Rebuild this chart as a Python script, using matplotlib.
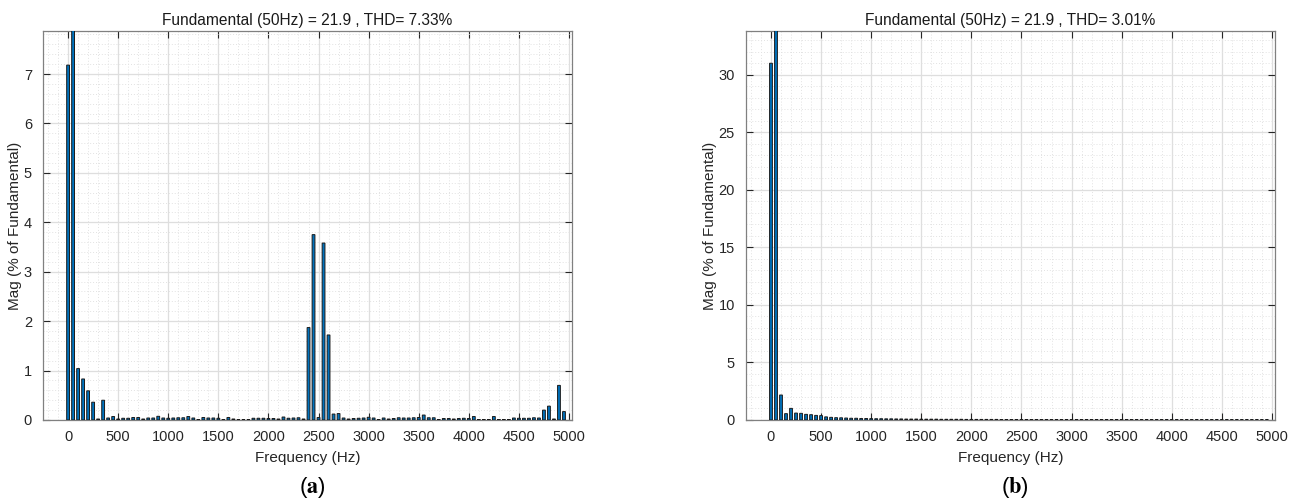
import numpy as np
import matplotlib
matplotlib.use("Agg")
import matplotlib.pyplot as plt
from matplotlib.ticker import MultipleLocator

plt.rcParams['font.family'] = ['Liberation Sans', 'DejaVu Sans']
plt.rcParams['mathtext.fontset'] = 'stix'

# harmonic frequencies 0..4950 Hz, step 50 Hz
freq = np.arange(0, 5000, 50)

# (a) magnitudes in % of fundamental
mag_a = [
    7.18, 100, 1.04, 0.83, 0.59, 0.36, 0.02, 0.40, 0.04, 0.07,
    0.02, 0.035, 0.035, 0.05, 0.05, 0.02, 0.04, 0.04, 0.075, 0.04,
    0.035, 0.04, 0.045, 0.045, 0.07, 0.04, 0.01, 0.05, 0.04, 0.04,
    0.035, 0.01, 0.05, 0.02, 0.005, 0.005, 0.005, 0.035, 0.035, 0.035,
    0.03, 0.03, 0.02, 0.06, 0.035, 0.04, 0.045, 0.02, 1.87, 3.75,
    0.05, 3.58, 1.72, 0.12, 0.13, 0.04, 0.02, 0.03, 0.035, 0.04,
    0.055, 0.04, 0.01, 0.04, 0.02, 0.03, 0.045, 0.04, 0.04, 0.045,
    0.05, 0.10, 0.045, 0.045, 0.01, 0.03, 0.03, 0.02, 0.03, 0.035,
    0.03, 0.07, 0.01, 0.01, 0.01, 0.07, 0.01, 0.01, 0.01, 0.04,
    0.035, 0.035, 0.035, 0.045, 0.04, 0.20, 0.28, 0.02, 0.70, 0.17,
]

# (b) magnitudes in % of fundamental
mag_b = [
    31.0, 100, 2.17, 0.55, 1.01, 0.60, 0.58, 0.49, 0.46, 0.40,
    0.38, 0.27, 0.23, 0.20, 0.19, 0.17, 0.15, 0.15, 0.13, 0.13,
    0.12, 0.11, 0.11, 0.10, 0.10, 0.09, 0.09, 0.08, 0.08, 0.08,
    0.07, 0.07, 0.07, 0.07, 0.06, 0.06, 0.06, 0.06, 0.06, 0.05,
    0.05, 0.05, 0.05, 0.05, 0.05, 0.05, 0.04, 0.04, 0.04, 0.04,
    0.04, 0.04, 0.04, 0.04, 0.04, 0.04, 0.03, 0.03, 0.03, 0.03,
    0.03, 0.03, 0.03, 0.03, 0.03, 0.03, 0.03, 0.03, 0.03, 0.03,
    0.03, 0.03, 0.03, 0.02, 0.02, 0.02, 0.02, 0.02, 0.02, 0.02,
    0.02, 0.02, 0.02, 0.02, 0.02, 0.02, 0.02, 0.02, 0.02, 0.02,
    0.02, 0.02, 0.02, 0.02, 0.02, 0.02, 0.02, 0.02, 0.02, 0.02,
]

titles = ["Fundamental (50Hz) = 21.9 , THD= 7.33%",
          "Fundamental (50Hz) = 21.9 , THD= 3.01%"]
panel_labels = [r"($\mathbf{a}$)", r"($\mathbf{b}$)"]
ytops = [7.87, 33.8]
ymajor = [1, 5]

fig = plt.figure(figsize=(13, 5.01), dpi=100)
positions = [[0.0331, 0.1617, 0.4069, 0.7764],
             [0.5738, 0.1617, 0.4069, 0.7764]]

for i, mags in enumerate([mag_a, mag_b]):
    ax = fig.add_axes(positions[i])
    bars = ax.bar(freq, mags, width=28, color='#0072BD', edgecolor='#1a1a1a',
                  linewidth=0.7, zorder=3)
    for b in bars:
        b.set_snap(False)
    ax.set_xlim(-250, 5030)
    ax.set_ylim(0, ytops[i])
    ax.xaxis.set_major_locator(MultipleLocator(500))
    ax.xaxis.set_minor_locator(MultipleLocator(100))
    ax.yaxis.set_major_locator(MultipleLocator(ymajor[i]))
    ax.yaxis.set_minor_locator(MultipleLocator(ymajor[i] / 5))
    ax.grid(which='major', color='#dedede', linewidth=0.9, zorder=0)
    ax.grid(which='minor', color='#e2e2e2', linestyle=(0, (1, 2)),
            linewidth=0.7, zorder=0)
    ax.set_axisbelow(True)
    ax.tick_params(which='major', direction='in', length=5, top=True,
                   right=True, labelsize=10.5, colors='#262626', width=0.8)
    ax.tick_params(axis='x', which='major', pad=7)
    ax.tick_params(axis='y', which='major', pad=8)
    ax.tick_params(which='minor', length=0)
    for s in ax.spines.values():
        s.set_color('#808080')
        s.set_linewidth(0.9)
    ax.set_title(titles[i], fontsize=11.2, color='#1a1a1a', pad=4)
    ax.set_xlabel("Frequency (Hz)", fontsize=11, color='#262626', labelpad=5)
    ax.set_ylabel("Mag (% of Fundamental)", fontsize=11, color='#262626',
                  labelpad=1)
    x0, _, w, _ = positions[i]
    fig.text(x0 + w / 2 + 0.0035, 0.027, panel_labels[i], ha='center',
             va='center', fontsize=16, color='black')

fig.savefig("out.png", dpi=100)
